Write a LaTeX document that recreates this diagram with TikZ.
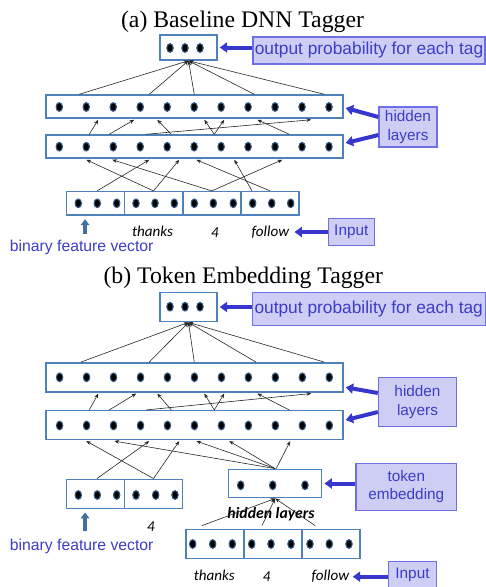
\documentclass[tikz,border=0pt]{standalone}
\usepackage{fontspec}
\setmainfont{Liberation Serif}
\newfontfamily\arialf{Liberation Sans}
\newfontfamily\calif{Carlito}
\usetikzlibrary{calc,arrows.meta,shapes.geometric}
\definecolor{boxblue}{RGB}{79,129,189}
\definecolor{lblfill}{RGB}{206,206,244}
\definecolor{lbldraw}{RGB}{110,110,230}
\definecolor{lbltext}{RGB}{60,60,200}
\definecolor{bigblue}{RGB}{55,55,205}
\definecolor{upblue}{RGB}{65,113,156}
\begin{document}
\begin{tikzpicture}[x=0.75pt,y=-0.75pt,
  unit/.style={draw=boxblue,line width=1.1pt,inner sep=0pt,minimum width=43.5pt,minimum height=17.5pt},
  dot/.style={ellipse,fill=black,draw=boxblue!70!black,line width=0.8pt,inner sep=0pt,minimum width=4.8pt,minimum height=6.5pt},
  lbl/.style={draw=lbldraw,fill=lblfill,line width=0.8pt,text=lbltext,font=\arialf\fontsize{11.5pt}{13.8pt}\selectfont,align=center,inner sep=0pt},
  bigl/.style={lbl,font=\arialf\fontsize{13pt}{15.6pt}\selectfont},
  bfv/.style={text=lbltext,font=\arialf\fontsize{11.8pt}{14pt}\selectfont,inner sep=0pt,anchor=base},
  word/.style={font=\calif\itshape\fontsize{11.3pt}{13.5pt}\selectfont,inner sep=0pt,anchor=base},
  bword/.style={font=\calif\bfseries\itshape\fontsize{11.8pt}{14pt}\selectfont,inner sep=0pt,anchor=base},
  ttl/.style={font=\fontsize{17.8pt}{21pt}\selectfont,inner sep=0pt,anchor=base},
  conn/.style={draw=black!85,line width=0.45pt,-{Stealth[length=3.6pt,width=2.8pt]}},
  bigarrow/.style={draw=bigblue,line width=3pt,-{Triangle[length=5.5pt,width=7.5pt]}},
  uparrow/.style={draw=upblue,line width=3pt,-{Triangle[length=4.5pt,width=6.5pt]}}]
\useasboundingbox (0,0) rectangle (486,587);

% ================= (a) =================
\node[ttl] (tA) at (242.5,27.5) {(a) Baseline DNN Tagger};
\node[unit,minimum width=42.75pt,minimum height=18.75pt] (oA) at (188.5,47.5) {};
\foreach \x [count=\i] in {170,185,200} \node[dot] (oA-\i) at (\x,48) {};
\node[bigl,minimum width=174pt,minimum height=20.25pt] (oAl) at (369,50.5) {output probability for each tag};
\draw[bigarrow] (oAl.west |- oA.east) -- ($(oA.east)+(2,0)$);

\node[unit,minimum width=222.75pt,minimum height=17.25pt] (h1A) at (194.5,106.5) {};
\node[unit,minimum width=222.75pt,minimum height=17.25pt] (h2A) at (194.5,146.5) {};
\foreach \i in {0,...,10} {
  \node[dot] (h1A-\i) at (59.3+26.97*\i,107) {};
  \node[dot] (h2A-\i) at (59.3+26.97*\i,146.7) {};
}
\node[lbl,minimum width=43.5pt,minimum height=30pt] (hidA) at (408,127) {hidden\\layers};
\draw[bigarrow] ($(hidA.west)+(0,-10)$) -- ($(h1A.east)+(2,1.5)$);
\draw[bigarrow] ($(hidA.west)+(0,8)$) -- ($(h2A.east)+(2,-3.5)$);

\foreach \c [count=\i] in {95.5,153.5,211.8,270} \node[unit] (iA\i) at (\c,203.3) {};
\foreach \x [count=\i] in {78.3,97.3,116.7,136,155,174.3,194.3,213.3,233.3,252.7,271.7,290.7}
  \node[dot] (iA-d\i) at (\x,203.3) {};

\node[word] (thA) at (152.5,236) {thanks};
\node[word] (fourA) at (215,237) {4};
\node[word] (fA) at (270.3,236) {follow};
\node[lbl,minimum width=34.5pt,minimum height=20pt] (inA) at (351.3,232) {Input};
\draw[bigarrow] (inA.west) -- ($(inA.west)+(-33.3,0)$);
\node[bfv] (bfvA) at (81.7,251.5) {binary feature vector};
\draw[uparrow] ($(iA1.south west)+(19.3,18)$) -- ($(iA1.south west)+(19.3,3.5)$);

% connectors (a)
\foreach \s in {80,150,195,255,325}
  \draw[conn] ($(h1A.north west)+(\s-46,0)$) -- (oA.south);
\foreach \s/\t in {90/99,110/135,172/158,215/205,215/225,147/312,290/258}
  \draw[conn] ($(h2A.north west)+(\s-46,0)$) -- ($(h1A.south west)+(\t-46,1)$);
\draw[conn] ($(iA1.north)+(1.5,0)$) -- ($(h2A.south west)+(150-46,1)$);
\draw[conn] (iA2.north) -- ($(h2A.south west)+(180-46,1)$);
\draw[conn] (iA2.north) -- ($(h2A.south west)+(87-46,1)$);
\draw[conn] (iA3.north) -- ($(h2A.south west)+(113-46,1)$);
\draw[conn] (iA3.north) -- ($(h2A.south west)+(283-46,1)$);
\draw[conn] (iA4.north) -- ($(h2A.south west)+(197-46,1)$);
\draw[conn] ($(iA4.north)+(-18,0)$) -- ($(h2A.south west)+(235-46,1)$);

% ================= (b) =================
\node[ttl] (tB) at (243.3,283.3) {(b) Token Embedding Tagger};
\node[unit,minimum width=42.75pt,minimum height=22pt] (oB) at (188.5,307) {};
\foreach \x [count=\i] in {170,185,200} \node[dot] (oB-\i) at (\x,306.7) {};
\node[bigl,minimum width=174.5pt,minimum height=25pt] (oBl) at (368.7,309) {output probability for each tag};
\draw[bigarrow] (oBl.west |- oB.east) -- ($(oB.east)+(2,0)$);

\node[unit,minimum width=222.75pt,minimum height=21.75pt] (h1B) at (194.5,377.3) {};
\node[unit,minimum width=222.75pt,minimum height=21.5pt] (h2B) at (194.5,425) {};
\foreach \i in {0,...,10} {
  \node[dot] (h1B-\i) at (59.6+26.97*\i,377.3) {};
  \node[dot] (h2B-\i) at (59.6+26.97*\i,425.5) {};
}
\node[lbl,minimum width=58.8pt,minimum height=37pt] (hidB) at (417.5,402) {hidden\\layers};
\draw[bigarrow] ($(hidB.west)+(0,-9)$) -- ($(h1B.east)+(2,10)$);
\draw[bigarrow] ($(hidB.west)+(0,10)$) -- ($(h2B.east)+(2,-5)$);

\foreach \c [count=\i] in {95.5,153.5} \node[unit,minimum height=21.75pt] (iB\i) at (\c,493.8) {};
\foreach \x [count=\i] in {78.3,97.3,116.7,136,155.7,175}
  \node[dot] (iB-d\i) at (\x,495) {};
\node[word] (fourB) at (151,531.7) {4};
\node[bfv] (bfvB) at (81.7,550) {binary feature vector};
\draw[uparrow] ($(iB1.south west)+(19.3,21.7)$) -- ($(iB1.south west)+(19.3,3.4)$);

\node[unit,minimum width=69.75pt,minimum height=21.3pt] (emb) at (275.2,483.5) {};
\foreach \x [count=\i] in {240.7,272.7,305} \node[dot] (emb-\i) at (\x,485.3) {};
\node[lbl,minimum width=75.5pt,minimum height=35pt] (embl) at (406.3,486.7) {token\\embedding};
\draw[bigarrow] (embl.west |- emb.east) -- ($(emb.east)+(2,0)$);

\node[bword] (hl) at (271,518.3) {hidden layers};

\foreach \c [count=\i] in {215,273,331} \node[unit,minimum height=21.75pt] (bB\i) at (\c,543.8) {};
\foreach \x [count=\i] in {192.7,212.7,232.3,251.7,271,291,310,329.3,349}
  \node[dot] (bB-d\i) at (\x,544) {};

\node[word] (thB) at (214.2,580) {thanks};
\node[word] (fourC) at (266.7,581) {4};
\node[word] (fB) at (330.3,580) {follow};
\node[lbl,minimum width=36.3pt,minimum height=20.25pt] (inB) at (412.5,575.2) {Input};
\draw[bigarrow] ($(inB.west)+(0,1.5)$) -- ($(inB.west)+(-35,1.5)$);

% connectors (b)
\foreach \s in {81.7,150,195,256.7,325}
  \draw[conn] ($(h1B.north west)+(\s-46,0)$) -- (oB.south);
\foreach \s/\t in {90/99,110/137,172/158,215/205,215/225,147/312,290/258}
  \draw[conn] ($(h2B.north west)+(\s-46,0)$) -- ($(h1B.south west)+(\t-46,1)$);
\draw[conn] ($(iB1.north)+(1.5,0)$) -- ($(h2B.south west)+(150-46,1)$);
\draw[conn] (iB2.north) -- ($(h2B.south west)+(180-46,1)$);
\draw[conn] (iB2.north) -- ($(h2B.south west)+(87-46,1)$);
\draw[conn] (emb.north) -- ($(h2B.south west)+(115-46,1)$);
\draw[conn] (emb.north) -- ($(h2B.south west)+(197-46,1)$);
\draw[conn] (emb.north) -- ($(h2B.south west)+(230-46,1)$);
\draw[conn] ($(emb.north)+(1,0)$) -- ($(h2B.south west)+(291-46,1)$);
\draw[conn] ($(bB1.north)+(-13,-3)$) -- (emb.south);
\draw[conn] ($(bB2.north)+(-11,-3)$) -- (emb.south);
\draw[conn] ($(bB3.north)+(-16,-3)$) -- (emb.south);
\end{tikzpicture}
\end{document}
